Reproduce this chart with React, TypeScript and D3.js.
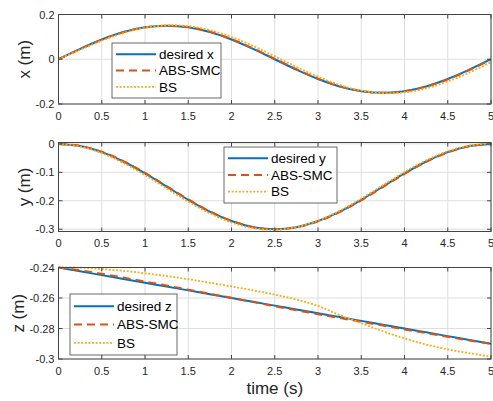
import React from "react";
import * as d3 from "d3";

const T = [0, 0.25, 0.5, 0.75, 1, 1.25, 1.5, 1.75, 2, 2.25, 2.5, 2.75, 3, 3.25, 3.5, 3.75, 4, 4.25, 4.5, 4.75, 5];

const xDesired = [0, 0.0464, 0.0882, 0.1214, 0.1427, 0.15, 0.1427, 0.1214, 0.0882, 0.0464, 0, -0.0464, -0.0882, -0.1214, -0.1427, -0.15, -0.1427, -0.1214, -0.0882, -0.0464, 0];
const xABS = [0, 0.045, 0.087, 0.1205, 0.1422, 0.1502, 0.1436, 0.1228, 0.09, 0.0484, 0.0021, -0.0444, -0.0864, -0.1202, -0.142, -0.15, -0.1434, -0.1226, -0.0898, -0.0482, -0.0022];
const xBS = [0, 0.042, 0.083, 0.117, 0.1405, 0.1518, 0.148, 0.13, 0.0997, 0.0594, 0.0132, -0.034, -0.078, -0.1147, -0.14, -0.1514, -0.148, -0.13, -0.0997, -0.0594, -0.0132];

const yDesired = [0, -0.0073, -0.0287, -0.0618, -0.1036, -0.15, -0.1964, -0.2382, -0.2713, -0.2927, -0.3, -0.2927, -0.2713, -0.2382, -0.1964, -0.15, -0.1036, -0.0618, -0.0287, -0.0073, 0];
const yABS = [0, -0.0065, -0.0275, -0.0603, -0.1018, -0.1482, -0.1948, -0.237, -0.2705, -0.2924, -0.3002, -0.2934, -0.2725, -0.2397, -0.1982, -0.1518, -0.1054, -0.0633, -0.0298, -0.008, -0.0002];
const yBS = [0, -0.0093, -0.0323, -0.0669, -0.1098, -0.1567, -0.203, -0.2443, -0.2764, -0.2963, -0.3019, -0.2928, -0.2697, -0.2351, -0.1922, -0.1453, -0.099, -0.0577, -0.0256, -0.0057, 0.002];

const zDesired = [-0.24, -0.2425, -0.245, -0.2475, -0.25, -0.2525, -0.255, -0.2575, -0.26, -0.2625, -0.265, -0.2675, -0.27, -0.2725, -0.275, -0.2775, -0.28, -0.2825, -0.285, -0.2875, -0.29];
const zABS = [-0.24, -0.2418, -0.2441, -0.2466, -0.2492, -0.2518, -0.2545, -0.2572, -0.2599, -0.2627, -0.2654, -0.268, -0.2706, -0.2731, -0.2756, -0.2781, -0.2806, -0.283, -0.2855, -0.2878, -0.29];
const zBS = [-0.24, -0.2401, -0.241, -0.2422, -0.2438, -0.2456, -0.2477, -0.25, -0.2524, -0.255, -0.2578, -0.261, -0.2652, -0.2712, -0.2765, -0.2818, -0.2865, -0.2905, -0.2937, -0.2962, -0.2985];

const xTicks = [0, 0.5, 1, 1.5, 2, 2.5, 3, 3.5, 4, 4.5, 5];
const xTickLabels = ["0", "0.5", "1", "1.5", "2", "2.5", "3", "3.5", "4", "4.5", "5"];

const panels = [
  {
    key: "x", top: 14.5, bottom: 104, domain: [-0.2, 0.2], yTicks: [-0.2, 0, 0.2], yTickLabels: ["-0.2", "0", "0.2"],
    ylabel: "x (m)", ylabelX: 30, series: [xDesired, xABS, xBS], names: ["desired x", "ABS-SMC", "BS"],
    legend: { x: 112, y: 43, w: 109, h: 55 },
  },
  {
    key: "y", top: 142.5, bottom: 231.5, domain: [-0.308, 0.005], yTicks: [-0.3, -0.2, -0.1, 0], yTickLabels: ["-0.3", "-0.2", "-0.1", "0"],
    ylabel: "y (m)", ylabelX: 30, series: [yDesired, yABS, yBS], names: ["desired y", "ABS-SMC", "BS"],
    legend: { x: 224, y: 147, w: 113, h: 56 },
  },
  {
    key: "z", top: 267.5, bottom: 359, domain: [-0.3, -0.24], yTicks: [-0.3, -0.28, -0.26, -0.24], yTickLabels: ["-0.3", "-0.28", "-0.26", "-0.24"],
    ylabel: "z (m)", ylabelX: 24, series: [zDesired, zABS, zBS], names: ["desired z", "ABS-SMC", "BS"],
    legend: { x: 70, y: 294, w: 107, h: 61 },
  },
];

const COLORS = ["#0072BD", "#D95319", "#EDB120"];
const DASH = [undefined, "8,5", "2,1.6"];
const WIDTH = [2, 2, 1.8];

const LEFT = 58.5;
const RIGHT = 491;
const FONT = "'Liberation Sans', Arial, Helvetica, sans-serif";
const AXIS_COLOR = "#444";
const GRID_COLOR = "#dedede";
const TEXT_COLOR = "#262626";

export default function App() {
  const xScale = d3.scaleLinear().domain([0, 5]).range([LEFT, RIGHT]);
  return (
    <svg width={493} height={401} style={{ position: "absolute", left: 0, top: 0, background: "#fff" }} fontFamily={FONT}>
      <rect x={0} y={0} width={493} height={401} fill="#fff" />
      {panels.map((p) => {
        const yScale = d3.scaleLinear().domain(p.domain).range([p.bottom, p.top]);
        const line = d3
          .line<number>()
          .x((_, i) => xScale(T[i]))
          .y((d) => yScale(d))
          .curve(d3.curveCatmullRom.alpha(0.5));
        const clipId = "clip-" + p.key;
        const lg = p.legend;
        const rowH = (lg.h - 6) / 3;
        return (
          <g key={p.key}>
            <defs>
              <clipPath id={clipId}>
                <rect x={LEFT} y={p.top - 2} width={RIGHT - LEFT} height={p.bottom - p.top + 4} />
              </clipPath>
            </defs>
            {/* grid */}
            {xTicks.map((t) => (
              <line key={"gx" + t} x1={xScale(t)} x2={xScale(t)} y1={p.top} y2={p.bottom} stroke={GRID_COLOR} strokeWidth={1} />
            ))}
            {p.yTicks.map((v) => (
              <line key={"gy" + v} x1={LEFT} x2={RIGHT} y1={yScale(v)} y2={yScale(v)} stroke={GRID_COLOR} strokeWidth={1} />
            ))}
            {/* lines */}
            <g clipPath={`url(#${clipId})`}>
              {p.series.map((s, i) => (
                <path
                  key={i}
                  d={line(s) || ""}
                  fill="none"
                  stroke={COLORS[i]}
                  strokeWidth={WIDTH[i]}
                  strokeDasharray={DASH[i]}
                />
              ))}
            </g>
            {/* box */}
            <rect x={LEFT} y={p.top} width={RIGHT - LEFT} height={p.bottom - p.top} fill="none" stroke={AXIS_COLOR} strokeWidth={1} />
            {/* ticks */}
            {xTicks.map((t) => (
              <g key={"tx" + t}>
                <line x1={xScale(t)} x2={xScale(t)} y1={p.bottom} y2={p.bottom - 4} stroke={AXIS_COLOR} />
                <line x1={xScale(t)} x2={xScale(t)} y1={p.top} y2={p.top + 4} stroke={AXIS_COLOR} />
              </g>
            ))}
            {p.yTicks.map((v) => (
              <g key={"ty" + v}>
                <line x1={LEFT} x2={LEFT + 4} y1={yScale(v)} y2={yScale(v)} stroke={AXIS_COLOR} />
                <line x1={RIGHT} x2={RIGHT - 4} y1={yScale(v)} y2={yScale(v)} stroke={AXIS_COLOR} />
              </g>
            ))}
            {/* tick labels */}
            {xTicks.map((t, i) => (
              <text key={"lx" + t} x={xScale(t)} y={p.bottom + 15.5} textAnchor="middle" fontSize={11} fill={TEXT_COLOR}>
                {xTickLabels[i]}
              </text>
            ))}
            {p.yTicks.map((v, i) => (
              <text key={"ly" + v} x={LEFT - 4} y={yScale(v) + 4} textAnchor="end" fontSize={11} fill={TEXT_COLOR}>
                {p.yTickLabels[i]}
              </text>
            ))}
            {/* y label */}
            <text
              transform={`translate(${p.ylabelX},${(p.top + p.bottom) / 2}) rotate(-90)`}
              textAnchor="middle"
              fontSize={17}
              fill={TEXT_COLOR}
            >
              {p.ylabel}
            </text>
            {/* legend */}
            <rect x={lg.x} y={lg.y} width={lg.w} height={lg.h} fill="#fff" stroke={AXIS_COLOR} strokeWidth={0.8} />
            {p.names.map((n, i) => {
              const cy = lg.y + 3 + rowH * (i + 0.5);
              return (
                <g key={n}>
                  <line x1={lg.x + 4} x2={lg.x + 44} y1={cy} y2={cy} stroke={COLORS[i]} strokeWidth={WIDTH[i]} strokeDasharray={DASH[i]} />
                  <text x={lg.x + 47} y={cy + 4.7} fontSize={13.5} fill="#000">
                    {n}
                  </text>
                </g>
              );
            })}
          </g>
        );
      })}
      <text x={(LEFT + RIGHT) / 2} y={394} textAnchor="middle" fontSize={17} fill={TEXT_COLOR}>
        time (s)
      </text>
    </svg>
  );
}
